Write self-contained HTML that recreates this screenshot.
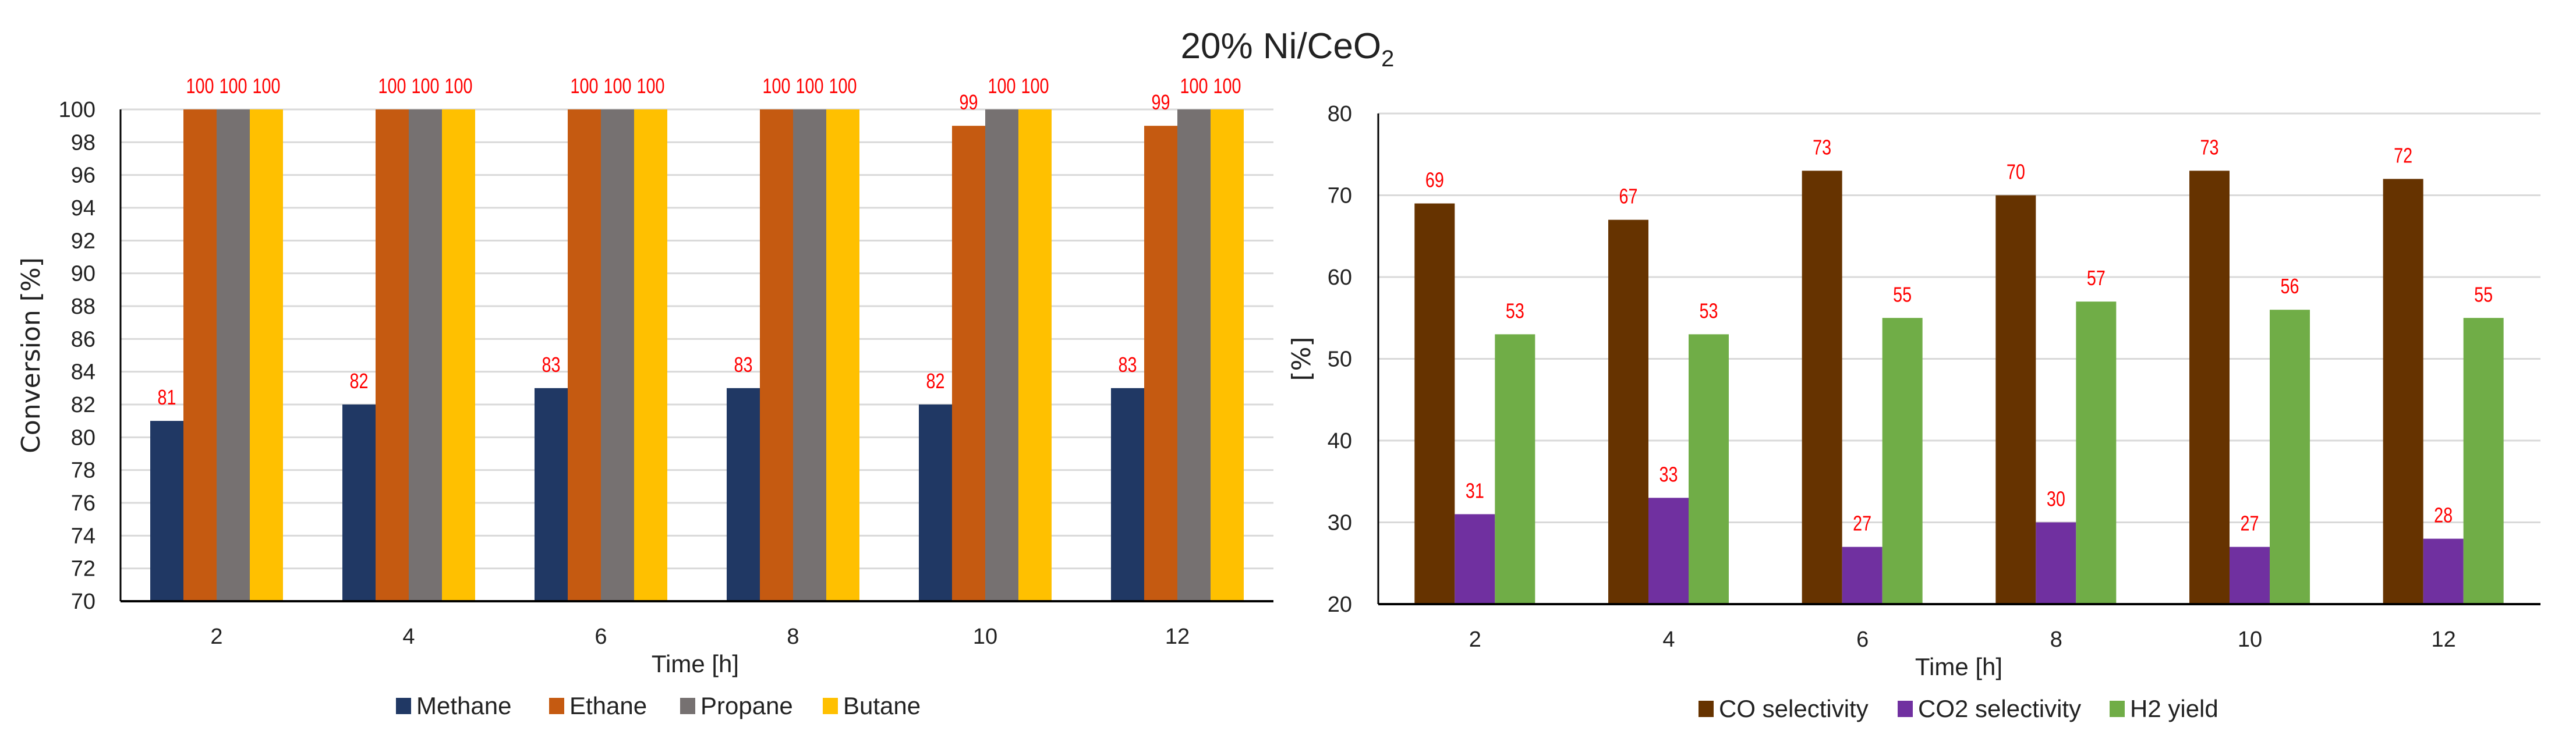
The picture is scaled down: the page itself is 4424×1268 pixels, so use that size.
<!DOCTYPE html>
<html><head><meta charset="utf-8">
<style>
html,body{margin:0;padding:0;background:#fff;}
svg{display:block;font-family:"Liberation Sans",sans-serif;}
</style></head>
<body>
<svg id="chart" width="4424" height="1268" viewBox="0 0 4424 1268" xmlns="http://www.w3.org/2000/svg">
<rect width="4424" height="1268" fill="#fff"/>
<text x="2211" y="100" text-anchor="middle" font-size="62" fill="#222">20% Ni/CeO<tspan font-size="40" dy="14">2</tspan></text>
<g id="left"></g>
<g id="right"></g>
</svg>
<script>
const categories = ["2","4","6","8","10","12"];
const leftSeriesNames = ["Methane","Ethane","Propane","Butane"];
const methane = [81,82,83,83,82,83];
const ethane = [100,100,100,100,99,99];
const propane = [100,100,100,100,100,100];
const butane = [100,100,100,100,100,100];
const leftTicks = [70,72,74,76,78,80,82,84,86,88,90,92,94,96,98,100];
const rightSeriesNames = ["CO selectivity","CO2 selectivity","H2 yield"];
const coSel = [69,67,73,70,73,72];
const co2Sel = [31,33,27,30,27,28];
const h2Yield = [53,53,55,57,56,55];
const rightTicks = [20,30,40,50,60,70,80];

const NS = "http://www.w3.org/2000/svg";
function mk(parent, tag, attrs, text){
  const e = document.createElementNS(NS, tag);
  for (const k in attrs) e.setAttribute(k, attrs[k]);
  if (text !== undefined) e.textContent = text;
  parent.appendChild(e);
  return e;
}

function drawChart(g, cfg){
  const {x0, x1, yTop, yBot, vMin, vMax, ticks, series, colors, names, barW, groupW, tickRight, legend, legendY, titleX, yTitle, yTitleX, yTitleSize, yTitleFont} = cfg;
  const yScale = v => yBot - (v - vMin) / (vMax - vMin) * (yBot - yTop);
  const catW = (x1 - x0) / categories.length;
  const xCenter = i => x0 + catW * (i + 0.5);
  ticks.forEach(t => {
    const y = yScale(t);
    const gl = mk(g, "line", {x1:x0, x2:x1, y1:y, y2:y, stroke:"#d9d9d9", "stroke-width":3});
    
    
    const tl = mk(g, "text", {x:tickRight, y:y+13, "text-anchor":"end", "font-size":38, fill:"#222"}, String(t));
    
    
  });
  series.forEach((vals, s) => {
    vals.forEach((v, i) => {
      const bx = xCenter(i) - groupW/2 + s*barW;
      const y = yScale(v);
      const r = mk(g, "rect", {x:bx, y:y, width:barW, height:yBot - y, fill:colors[s]});
      
      
      const str = String(v);
      const lb = mk(g, "text", {x:bx + barW/2, y:y - 28, "text-anchor":"middle", "font-size":36, fill:"#ff0000", textLength: str.length*16, lengthAdjust:"spacingAndGlyphs"}, str);
      
      
    });
  });
  const ya = mk(g, "line", {x1:x0, x2:x0, y1:yTop, y2:yBot, stroke:"#000", "stroke-width":3});
  
  
  const xa = mk(g, "line", {x1:x0, x2:x1, y1:yBot, y2:yBot, stroke:"#000", "stroke-width":4});
  
  
  categories.forEach((c, i) => {
    const t = mk(g, "text", {x:xCenter(i), y:yBot + 73, "text-anchor":"middle", "font-size":38, fill:"#222"}, c);
    
    
  });
  const xt = mk(g, "text", {x:titleX, y:yBot + 122, "text-anchor":"middle", "font-size":42, fill:"#222"}, "Time [h]");
  
  
  const yt = mk(g, "text", {x:0, y:0, transform:`translate(${yTitleX},${(yTop+yBot)/2}) rotate(-90)`, "text-anchor":"middle", "font-size":yTitleSize, "font-family":yTitleFont, fill:"#222"}, yTitle);
  
  
  legend.forEach((lx, s) => {
    const sq = mk(g, "rect", {x:lx, y:legendY - 14, width:26, height:28, fill:colors[s]});
    
    
    const lt = mk(g, "text", {x:lx + 35, y:legendY + 14, "font-size":42, fill:"#222"}, names[s]);
    
    
  });
}

drawChart(document.getElementById("left"), {
  x0:207, x1:2187, yTop:188, yBot:1033, vMin:70, vMax:100, ticks:leftTicks,
  series:[methane, ethane, propane, butane],
  colors:["#203864","#c55a11","#767171","#ffc000"],
  names:leftSeriesNames, barW:57, groupW:228, tickRight:164,
  legend:[680,943,1168,1413], legendY:1213, titleX:1194,
  yTitle:"Conversion [%]", yTitleX:68, yTitleSize:44, yTitleFont:"DejaVu Sans, sans-serif"
});
drawChart(document.getElementById("right"), {
  x0:2367, x1:4363, yTop:195, yBot:1038, vMin:20, vMax:80, ticks:rightTicks,
  series:[coSel, co2Sel, h2Yield],
  colors:["#663300","#7030a0","#70ad47"],
  names:rightSeriesNames, barW:69, groupW:208, tickRight:2322,
  legend:[2917,3259,3623], legendY:1218, titleX:3364,
  yTitle:"[%]", yTitleX:2250, yTitleSize:44, yTitleFont:"DejaVu Sans, sans-serif"
});
</script>
</body></html>
